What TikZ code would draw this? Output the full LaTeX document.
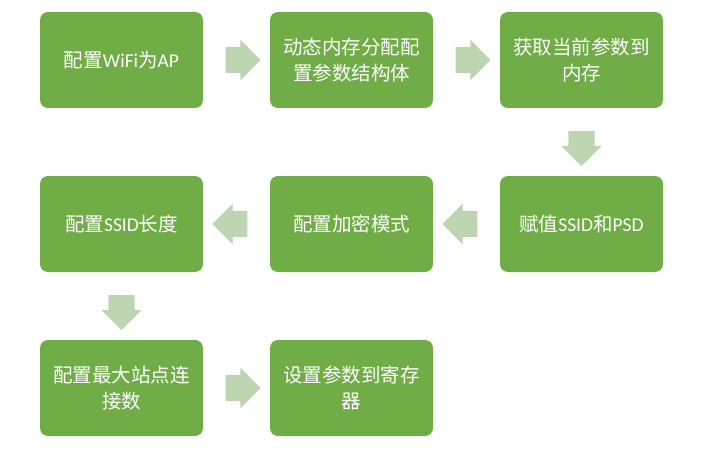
\documentclass[tikz,border=0pt]{standalone}
\usepackage{fontspec}
\setmainfont{Noto Sans CJK SC}
\newfontfamily\lat{Carlito}
\usepackage{xcolor}
\usetikzlibrary{shapes.arrows, calc}
\definecolor{boxgreen}{HTML}{70AD47}
\definecolor{arrowgreen}{HTML}{BDD5B1}
\tikzset{
  stepbox/.style={fill=boxgreen, rounded corners=8pt, minimum width=163pt, minimum height=96pt, text width=145pt, align=center, text=white, font=\fontsize{19.5}{26}\selectfont},
  flowarrow/.style={single arrow, fill=arrowgreen, draw=none, minimum width=0pt, minimum height=35pt, inner xsep=0pt, inner ysep=13pt, single arrow head extend=7pt}
}
\begin{document}
\begin{tikzpicture}[x=1pt, y=1pt]
        \useasboundingbox (0,0) rectangle (704,448);
        % Boxes
        \node[stepbox] (wifi) at (121.5,388) {配置{\lat WiFi}为{\lat AP}};
        \node[stepbox] (alloc) at (351.5,388) {动态内存分配配\\置参数结构体};
        \node[stepbox] (getcfg) at (581.5,388) {获取当前参数到\\内存};
        \node[stepbox] (ssid) at (581.5,224) {赋值{\lat SSID}和{\lat PSD}};
        \node[stepbox] (encrypt) at (351.5,224) {配置加密模式};
        \node[stepbox] (ssidlen) at (121.5,224) {配置{\lat SSID}长度};
        \node[stepbox] (maxconn) at (121.5,60) {配置最大站点连\\接数};
        \node[stepbox] (setcfg) at (351.5,60) {设置参数到寄存\\器};

        % Arrows
        \node[flowarrow] (arr1) at ($(wifi.east)!0.5!(alloc.west)$) {};
        \node[flowarrow] (arr2) at ($(alloc.east)!0.5!(getcfg.west)$) {};
        \node[flowarrow, rotate=-90] (arr3) at ($(getcfg.south)!0.5!(ssid.north)$) {};
        \node[flowarrow, rotate=180] (arr4) at ($(ssid.west)!0.5!(encrypt.east)$) {};
        \node[flowarrow, rotate=180] (arr5) at ($(encrypt.west)!0.5!(ssidlen.east)$) {};
        \node[flowarrow, rotate=-90] (arr6) at ($(ssidlen.south)!0.5!(maxconn.north)$) {};
        \node[flowarrow] (arr7) at ($(maxconn.east)!0.5!(setcfg.west)$) {};
    \end{tikzpicture}
\end{document}
